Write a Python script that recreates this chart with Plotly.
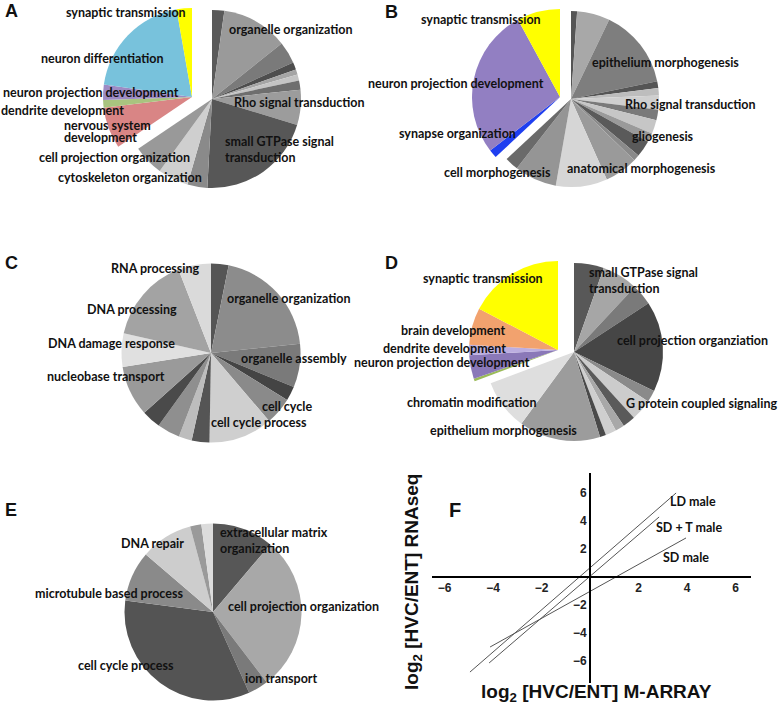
import plotly.graph_objects as go

W, H = 778, 714

# ---------------- data ----------------
# Panel A (values in degrees of the circle, clockwise from 12 o'clock)
a_gray_vals = [8, 43.5, 14.3, 4.8, 3.4, 4, 6, 23, 76, 13, 20, 20]
a_gray_cols = ['#5a5a5a', '#9a9a9a', '#7a7a7a', '#4e4e4e', '#a5a5a5', '#c4c4c4',
               '#6e6e6e', '#9c9c9c', '#575757', '#8a8a8a', '#cfcfcf', '#999999']
a_col_vals = [27, 5, 10, 72, 10]
a_col_cols = ['#d98585', '#a9c47f', '#9d8bc4', '#78c2dc', '#ffff00']

# Panel B
b_gray_vals = [4, 21.7, 52.6, 4.5, 5, 9.2, 7, 9, 6, 11, 4, 22, 34, 28, 9]
b_gray_cols = ['#555555', '#a8a8a8', '#7e7e7e', '#555555', '#bdbdbd', '#cfcfcf',
               '#7a7a7a', '#c6c6c6', '#9a9a9a', '#5a5a5a', '#8a8a8a', '#9a9a9a',
               '#d6d6d6', '#959595', '#6a6a6a']
b_col_vals = [5.5, 99, 28.5]
b_col_cols = ['#1f3ff0', '#927fc2', '#ffff00']

# Panel C
c_vals = [11.4, 72.6, 28.4, 9.3, 17.8, 41.5, 11.5, 8.5, 14.8, 12.4, 32.8, 21.7, 56, 21.3]
c_cols = ['#555555', '#8c8c8c', '#7a7a7a', '#444444', '#8a8a8a', '#cfcfcf', '#555555',
          '#bdbdbd', '#8f8f8f', '#4a4a4a', '#9a9a9a', '#e0e0e0', '#a3a3a3', '#dadada']

# Panel D
d_gray_vals = [19.5, 23.5, 13.8, 59.1, 7.8, 14, 8.3, 6, 7, 4, 53.3, 33.1]
d_gray_cols = ['#585858', '#a6a6a6', '#7a7a7a', '#464646', '#8a8a8a', '#cccccc',
               '#5a5a5a', '#a8a8a8', '#cfcfcf', '#4a4a4a', '#9c9c9c', '#dedede']
d_col_vals = [1.8, 15.4, 6.8, 24.2, 62.4]
d_col_cols = ['#9bbb59', '#8a78b8', '#bcaee0', '#f2a26e', '#ffff00']

# Panel E
e_vals = [40.3, 102.3, 13.3, 121.5, 33.2, 34.4, 7.4, 7.6]
e_cols = ['#575757', '#a8a8a8', '#7a7a7a', '#545454', '#8a8a8a', '#cdcdcd', '#9a9a9a', '#dcdcdc']

# Panel F regression lines (start/end points)
f_names = ['LD male', 'SD + T male', 'SD male']
f_x0 = [-4.95, -4.16, -4.12]
f_y0 = [-6.79, -6.14, -5.0]
f_x1 = [3.55, 2.85, 3.96]
f_y1 = [6.0, 4.29, 2.79]
f_ticks = [-6, -4, -2, 2, 4, 6]

TRANSP = 'rgba(0,0,0,0)'
LABEL_FONT = dict(family='Lato', size=12.5, color='#111111', weight=700)

fig = go.Figure()


def dom(cx, cy, r):
    return dict(x=[(cx - r) / W, (cx + r) / W], y=[1 - (cy + r) / H, 1 - (cy - r) / H])


def add_pie(vals, cols, cx, cy, r, name):
    fig.add_trace(go.Pie(values=vals, labels=[f'{name}{i}' for i in range(len(vals))],
                         marker=dict(colors=cols, line=dict(width=0)),
                         sort=False, direction='clockwise', rotation=0,
                         textinfo='none', hoverinfo='skip', showlegend=False,
                         domain=dom(cx, cy, r)))


def add_split(gray_vals, gray_cols, col_vals, col_cols, gc, cc, r, name):
    vals = gray_vals + col_vals
    add_pie(vals, gray_cols + [TRANSP] * len(col_vals), gc[0], gc[1], r, name + 'g')
    add_pie(vals, [TRANSP] * len(gray_vals) + col_cols, cc[0], cc[1], r, name + 'c')


add_split(a_gray_vals, a_gray_cols, a_col_vals, a_col_cols, (212, 99), (192, 97), 89, 'a')
add_split(b_gray_vals, b_gray_cols, b_col_vals, b_col_cols, (571, 99), (560, 97), 88, 'b')
add_pie(c_vals, c_cols, 211, 353, 89.5, 'c')
add_split(d_gray_vals, d_gray_cols, d_col_vals, d_col_cols, (574, 352), (558, 350), 89, 'd')
add_pie(e_vals, e_cols, 213, 612, 88.5, 'e')

# Panel F lines
for n, x0, y0, x1, y1 in zip(f_names, f_x0, f_y0, f_x1, f_y1):
    fig.add_trace(go.Scatter(x=[x0, x1], y=[y0, y1], mode='lines', name=n,
                             line=dict(color='#555555', width=1), showlegend=False,
                             hoverinfo='skip', xaxis='x', yaxis='y'))

annotations = []


def lab(text, px, py, anchor='center', font=None, align='center'):
    annotations.append(dict(text=text, x=px / W, y=1 - py / H, xref='paper', yref='paper',
                            xanchor=anchor, yanchor='middle', showarrow=False, align=align,
                            font=font or LABEL_FONT))


# Panel letters
LET = dict(family='Liberation Sans', size=18, color='#111111', weight=700)
for t, px, py in [('A', 11, 11), ('B', 391, 12), ('C', 11, 263), ('D', 391, 263), ('E', 11, 510)]:
    lab(t, px, py, font=LET)
lab('F', 455, 510, font=dict(family='Liberation Sans', size=20, color='#111111', weight=700))

# Panel A labels
lab('synaptic transmission', 126, 12)
lab('organelle organization', 291, 30)
lab('neuron differentiation', 102, 58)
lab('neuron projection development', 91, 93)
lab('Rho signal transduction', 299, 103)
lab('dendrite development', 63, 110)
lab('nervous system', 62, 125, anchor='left')
lab('development', 62, 137, anchor='left')
lab('small GTPase signal<br>transduction', 223, 149, anchor='left', align='left')
lab('cell projection organization', 114, 157)
lab('cytoskeleton organization', 130, 177)

# Panel B labels
lab('synaptic transmission', 481, 19)
lab('epithelium morphogenesis', 665, 62)
lab('neuron projection development', 456, 83)
lab('Rho signal transduction', 690, 104)
lab('synapse organization', 457, 133)
lab('gliogenesis', 663, 136)
lab('cell morphogenesis', 497, 172)
lab('anatomical morphogenesis', 641, 168)

# Panel C labels
lab('RNA processing', 155, 268)
lab('organelle organization', 289, 298)
lab('DNA processing', 132, 309)
lab('DNA damage response', 111, 343)
lab('organelle assembly', 294, 358)
lab('nucleobase transport', 106, 376)
lab('cell cycle', 287, 406)
lab('cell cycle process', 259, 422)

# Panel D labels
lab('synaptic transmission', 483, 279)
lab('small GTPase signal<br>transduction', 587, 281, anchor='left', align='left')
lab('brain development', 453, 330)
lab('cell projection organziation', 692, 340)
lab('dendrite development', 444, 348)
lab('neuron projection development', 442, 362)
lab('chromatin modification', 472, 402)
lab('G protein coupled signaling', 701, 403)
lab('epithelium morphogenesis', 504, 430)

# Panel E labels
lab('extracellular matrix<br>organization', 218, 540, anchor='left', align='left')
lab('DNA repair', 152, 543)
lab('microtubule based process', 109, 593)
lab('cell projection organization', 303, 606)
lab('cell cycle process', 126, 665)
lab('ion transport', 281, 678)

# Panel F labels
lab('LD male', 693, 502)
lab('SD + T male', 689, 527)
lab('SD male', 686, 557)
TITLE_FONT = dict(family='Liberation Sans', size=19, color='#111111', weight=700)
lab('log<sub>2</sub> [HVC/ENT] M-ARRAY', 596, 693, font=TITLE_FONT)
annotations.append(dict(text='log<sub>2</sub> [HVC/ENT] RNAseq', x=413 / W, y=1 - 582 / H,
                        xref='paper', yref='paper', xanchor='center', yanchor='middle',
                        textangle=-90, showarrow=False, font=TITLE_FONT))

# Panel F axes geometry
x_zero_px, y_zero_px = 590, 577
xpx, ypx = 24.25, 14.0
xl, xr = 431.7, 751
yt, yb = 473.3, 683.3
TICK_FONT = dict(family='Liberation Sans', size=12, color='#222222', weight=700)

fig.update_layout(
    width=W, height=H, margin=dict(l=0, r=0, t=0, b=0),
    paper_bgcolor='white', plot_bgcolor='rgba(0,0,0,0)',
    annotations=annotations,
    xaxis=dict(domain=[xl / W, xr / W],
               range=[(xl - x_zero_px) / xpx, (xr - x_zero_px) / xpx],
               anchor='free', position=1 - y_zero_px / H,
               showline=True, linecolor='black', linewidth=2, showgrid=False,
               zeroline=False, ticks='', tickvals=f_ticks, tickfont=TICK_FONT),
    yaxis=dict(domain=[1 - yb / H, 1 - yt / H],
               range=[(y_zero_px - yb) / ypx, (y_zero_px - yt) / ypx],
               anchor='free', position=x_zero_px / W,
               showline=True, linecolor='black', linewidth=2, showgrid=False,
               zeroline=False, ticks='', tickvals=f_ticks, tickfont=TICK_FONT),
)

fig.write_html('out.html', config={'displayModeBar': False},
               post_script="document.body.style.margin='0px';document.body.style.overflow='hidden';")
